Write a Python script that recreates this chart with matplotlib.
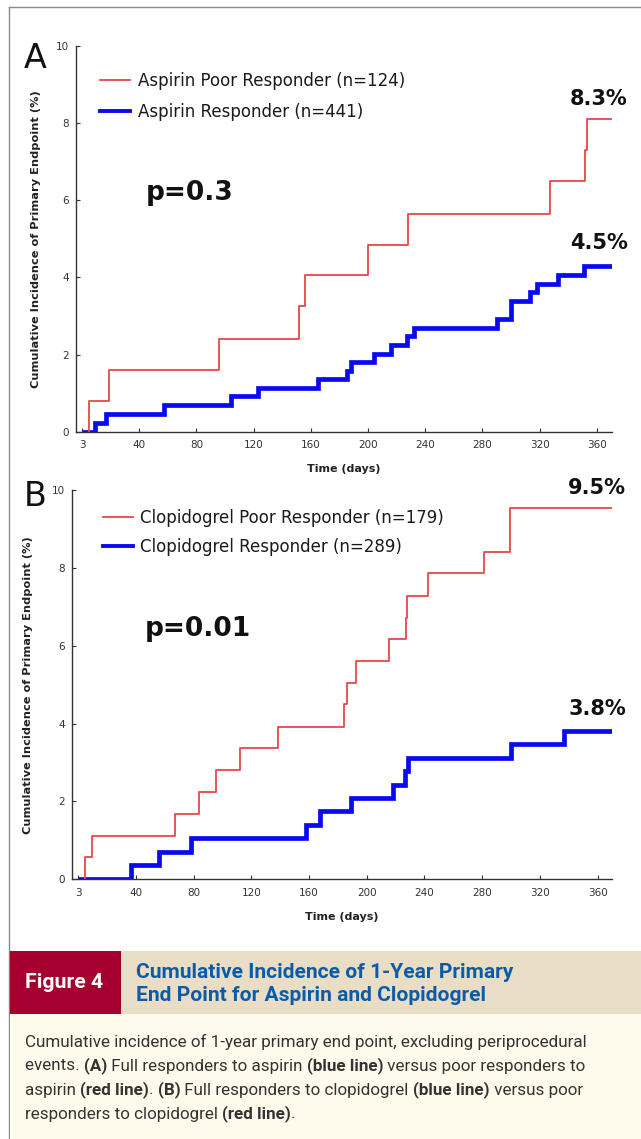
import numpy as np
import matplotlib
matplotlib.use("Agg")
import matplotlib.pyplot as plt
from matplotlib.lines import Line2D
from matplotlib import font_manager

# ---------------- data ----------------
x_ticks = [0, 40, 80, 120, 160, 200, 240, 280, 320, 360]
x_tick_labels = ["3", "40", "80", "120", "160", "200", "240", "280", "320", "360"]
y_ticks = [0, 2, 4, 6, 8, 10]
y_tick_labels = ["0", "2", "4", "6", "8", "10"]

asp_poor_t = [5, 19, 96, 152, 156, 200, 228, 327, 352, 353]
asp_poor_v = [0.8, 1.6, 2.4, 3.25, 4.05, 4.85, 5.65, 6.5, 7.3, 8.1]
asp_resp_t = [9, 17, 57, 104.5, 123, 165, 185, 188, 204, 216, 227.5, 232, 290, 300, 313, 318, 333, 351]
asp_resp_v = [0.22, 0.45, 0.68, 0.92, 1.14, 1.36, 1.58, 1.8, 2.02, 2.25, 2.48, 2.7, 2.93, 3.38, 3.61, 3.83, 4.07, 4.3]
asp_end = 370.5

clop_poor_t = [4.8, 9.8, 67.5, 84, 95.5, 112.5, 138.5, 184, 186.5, 192.5, 215.5, 227, 228, 242.5, 281, 299.5]
clop_poor_v = [0.56, 1.11, 1.67, 2.24, 2.8, 3.37, 3.91, 4.5, 5.05, 5.6, 6.18, 6.72, 7.29, 7.87, 8.4, 9.53]
clop_resp_t = [36.5, 56, 78.5, 158, 167.5, 189, 218.5, 226.5, 228.5, 300, 336.5]
clop_resp_v = [0.36, 0.69, 1.05, 1.4, 1.75, 2.1, 2.42, 2.77, 3.11, 3.47, 3.81]
clop_end = 370

asp_labels = ["Aspirin Poor Responder (n=124)", "Aspirin Responder (n=441)"]
clop_labels = ["Clopidogrel Poor Responder (n=179)", "Clopidogrel Responder (n=289)"]
asp_pct = ["8.3%", "4.5%"]
clop_pct = ["9.5%", "3.8%"]
asp_p = "p=0.3"
clop_p = "p=0.01"

ylabel = "Cumulative Incidence of Primary Endpoint (%)"
xlabel = "Time (days)"

fig_label = "Figure 4"
title_lines = ["Cumulative Incidence of 1-Year Primary",
               "End Point for Aspirin and Clopidogrel"]
caption_lines = [
    [("Cumulative incidence of 1-year primary end point, excluding periprocedural", False)],
    [("events. ", False), ("(A)", True), (" Full responders to aspirin ", False), ("(blue line)", True),
     (" versus poor responders to", False)],
    [("aspirin ", False), ("(red line)", True), (". ", False), ("(B)", True),
     (" Full responders to clopidogrel ", False), ("(blue line)", True), (" versus poor", False)],
    [("responders to clopidogrel ", False), ("(red line)", True), (".", False)],
]

# ---------------- style ----------------
W, H = 641, 1139
RED = "#e8474b"
BLUE = "#0a0af2"
AXC = "#333333"

installed = {f.name for f in font_manager.fontManager.ttflist}


def pick(names):
    return [f for f in names if f in installed] + ["DejaVu Sans"]


CAPF = pick(["Roboto"])
TITF = pick(["Roboto"])

plt.rcParams["font.family"] = ["DejaVu Sans"]

fig = plt.figure(figsize=(W / 100, H / 100), dpi=100)
fig.patch.set_facecolor("white")


def px_rect(left, top, right, bottom):
    return [left / W, 1 - bottom / H, (right - left) / W, (bottom - top) / H]


def make_panel(rect, xlim, poor_t, poor_v, resp_t, resp_v, end, labels, pct, pct_pos,
               ptxt, p_pos, leg_anchor, letter, letter_pos, ylab_x, xlab_y, leg_space):
    ax = fig.add_axes(rect)
    ax.set_xlim(*xlim)
    ax.set_ylim(0, 10)
    px = np.r_[poor_t[0], poor_t, end]
    py = np.r_[0, poor_v, poor_v[-1]]
    bx = np.r_[0, resp_t, end]
    by = np.r_[0, resp_v, resp_v[-1]]
    ax.step(bx, by, where="post", color=BLUE, lw=3.4, solid_joinstyle="miter",
            solid_capstyle="butt", label=labels[1], zorder=2)
    ax.step(px, py, where="post", color=RED, lw=1.3, label=labels[0], zorder=3)
    for s in ["top", "right"]:
        ax.spines[s].set_visible(False)
    for s in ["left", "bottom"]:
        ax.spines[s].set_color(AXC)
        ax.spines[s].set_linewidth(1.0)
    ax.set_xticks(x_ticks)
    ax.set_xticklabels(x_tick_labels)
    ax.set_yticks(y_ticks)
    ax.set_yticklabels(y_tick_labels)
    ax.tick_params(direction="in", length=3, width=0.8, color=AXC, labelsize=7.5,
                   labelcolor="#333333")
    ax.tick_params(axis="x", pad=6)
    ax.tick_params(axis="y", pad=5)
    ax.set_ylabel(ylabel, fontsize=8.2, fontweight="bold", color="#222222")
    ax.yaxis.set_label_coords(ylab_x, 0.5)
    ax.set_xlabel(xlabel, fontsize=8, fontweight="bold", color="#222222")
    ax.xaxis.set_label_coords(0.5, xlab_y)
    h1 = Line2D([], [], color=RED, lw=1.3)
    h2 = Line2D([], [], color=BLUE, lw=2.8)
    ax.legend([h1, h2], labels, loc="upper left", bbox_to_anchor=leg_anchor, frameon=False,
              fontsize=12, handlelength=1.8, handletextpad=0.45, labelspacing=leg_space,
              borderpad=0, borderaxespad=0, labelcolor="#1a1a1a")
    for (tx, ty), s in zip(pct_pos, pct):
        ax.text(tx, ty, s, fontsize=15, fontweight="bold", ha="center", va="center",
                color="#111111", clip_on=False)
    ax.text(p_pos[0], p_pos[1], ptxt, fontsize=19, fontweight="bold", ha="center",
            va="center", color="#111111")
    fig.text(letter_pos[0] / W, 1 - letter_pos[1] / H, letter, fontsize=24,
             ha="left", va="center", color="#111111")
    return ax


# panel A: axis x 76..612 px, y 46..431.7 px
make_panel(px_rect(76, 46, 612, 431.7), (-4.2, 370.6),
           asp_poor_t, asp_poor_v, asp_resp_t, asp_resp_v, asp_end,
           asp_labels, asp_pct, [(361.5, 8.63), (361.5, 4.89)],
           asp_p, (75, 6.19), (0.045, 0.932), "A", (24, 58), -0.066, -0.083, 0.77)

# panel B: axis x 72..612 px, y 490..879.3 px
make_panel(px_rect(72, 490, 612, 879.3), (-4.2, 369.9),
           clop_poor_t, clop_poor_v, clop_resp_t, clop_resp_v, clop_end,
           clop_labels, clop_pct, [(359.5, 10.05), (360, 4.37)],
           clop_p, (83, 6.43), (0.057, 0.952), "B", (24, 497), -0.072, -0.083, 0.66)

# ---------------- frame + caption ----------------
fig.add_artist(Line2D([9 / W, 1], [1 - 7 / H, 1 - 7 / H], color="#8a8a8a", lw=1.0))
fig.add_artist(Line2D([9 / W, 9 / W], [0, 1 - 7 / H], color="#8a8a8a", lw=1.0))

ov = fig.add_axes([0, 0, 1, 1], zorder=5)
ov.set_xlim(0, W)
ov.set_ylim(H, 0)
ov.axis("off")
ov.add_patch(plt.Rectangle((9.5, 951), W - 9.5, 63, color="#e9ddc6", lw=0))
ov.add_patch(plt.Rectangle((9.5, 951), 111, 63, color="#a6002f", lw=0))
ov.add_patch(plt.Rectangle((9.5, 1014), W - 9.5, H - 1014, color="#fefbec", lw=0))

renderer = fig.canvas.get_renderer()


def text_width(s, size, bold, family):
    kw = dict(fontsize=size, fontweight="bold" if bold else "normal", family=family)
    t = fig.text(0, 0, "|" + s + "|", **kw)
    t2 = fig.text(0, 0, "||", **kw)
    w = t.get_window_extent(renderer).width - t2.get_window_extent(renderer).width
    t.remove()
    t2.remove()
    return w


def fit_size(s, bold, family, target):
    return 10 * target / text_width(s, 10, bold, family)


# Figure 4 label
fs = fit_size(fig_label, True, TITF, 78)
ov.text(64.5, 983, fig_label, fontsize=fs, fontweight="bold", family=TITF, color="white",
        ha="center", va="center")
# Title
fs = fit_size(title_lines[0], True, TITF, 378)
ov.text(136, 972, title_lines[0], fontsize=fs, fontweight="bold", family=TITF,
        color="#0b5ca8", ha="left", va="center")
ov.text(136, 995.5, title_lines[1], fontsize=fs, fontweight="bold", family=TITF,
        color="#0b5ca8", ha="left", va="center")

# Caption with mixed bold segments
cfs = fit_size(caption_lines[0][0][0], False, CAPF, 565)
ys = [1042, 1066, 1090, 1114]
for line, y in zip(caption_lines, ys):
    x = 25
    for seg, bold in line:
        ov.text(x, y, seg, fontsize=cfs, fontweight="bold" if bold else "normal",
                family=CAPF, color="#333333", ha="left", va="center")
        x += text_width(seg, cfs, bold, CAPF)

fig.savefig("out.png", dpi=100)
